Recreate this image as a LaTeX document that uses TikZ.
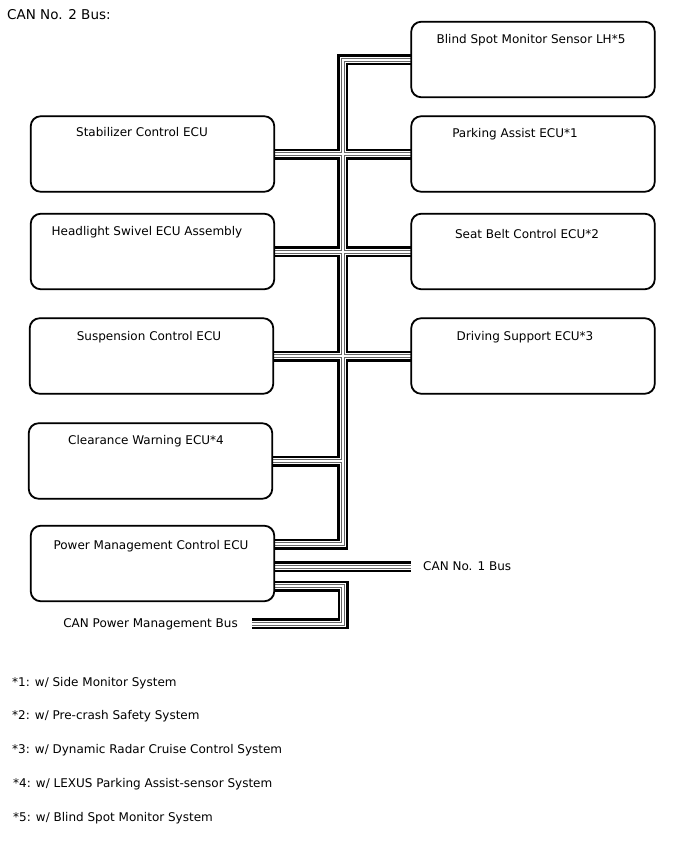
\documentclass[tikz,border=0pt]{standalone}
\usepackage{fontspec}
\setmainfont{DejaVu Sans}

% one CAN cable = black pair with a grey shield line between
\tikzset{
  wireA/.style={line width=11pt, black},
  wireB/.style={line width=6pt, white},
  wireC/.style={line width=4pt, black!60},
  wireD/.style={line width=2pt, white}
}

\newcommand{\cannet}[1]{%
  \draw[#1] (bsm.west) -| (busbot) -- (busbot -| pwr.east);
  \draw[#1] (stab.east) -- (park.west);
  \draw[#1] (head.east) -- (seat.west);
  \draw[#1] (susp.east) -- (drive.west);
  \draw[#1] (clear.east) -- (clear.east -| busbot);
  \draw[#1] ([yshift=-3pt]pwr.east) -- (can1);
  \draw[#1] ([yshift=-22.5pt]pwr.east) -| (pmbend) -- (pmend);
}

\begin{document}
\begin{tikzpicture}[x=1pt, y=-1pt,
  ecu/.style={draw, rounded corners=10pt, line width=1.1pt, fill=white,
    minimum width=243pt, minimum height=75pt, inner sep=0pt},
  txt/.style={font=\fontsize{12}{14}\selectfont, inner sep=0pt}]
  \useasboundingbox (0,0) rectangle (688,852);

  % ECUs
  \node[ecu] (bsm) at (533,59.5) {};
  \node[ecu] (stab) at (152.5,154) {};
  \node[ecu] (park) at (533,154) {};
  \node[ecu] (head) at (152.5,251.5) {};
  \node[ecu] (seat) at (533,251.5) {};
  \node[ecu] (susp) at (151.5,356) {};
  \node[ecu] (drive) at (533,356) {};
  \node[ecu] (clear) at (150.5,461) {};
  \node[ecu] (pwr) at (152.5,563.5) {};

  \coordinate (busbot) at (342.5,544);
  \coordinate (can1) at (411,566.5);
  \coordinate (pmbend) at (343,623.5);
  \coordinate (pmend) at (252,623.5);

  \foreach \s in {wireA,wireB,wireC,wireD} {\cannet{\s}}

  % redraw boxes on top of the cable ends
  \foreach \n in {bsm,stab,park,head,seat,susp,drive,clear,pwr}
    \draw[line width=1.1pt, rounded corners=10pt] (\n.north west) rectangle (\n.south east);

  \node[txt, anchor=west, font=\fontsize{13.5}{15}\selectfont] (title) at (7,15) {CAN No. 2 Bus:};
  \node[txt] (bsm-t) at (531,40) {Blind Spot Monitor Sensor LH*5};
  \node[txt] (stab-t) at (142,132) {Stabilizer Control ECU};
  \node[txt] (park-t) at (515,134) {Parking Assist ECU*1};
  \node[txt] (head-t) at (147,232) {Headlight Swivel ECU Assembly};
  \node[txt] (seat-t) at (527,234) {Seat Belt Control ECU*2};
  \node[txt] (susp-t) at (149,337) {Suspension Control ECU};
  \node[txt] (drive-t) at (525,337) {Driving Support ECU*3};
  \node[txt] (clear-t) at (146,441) {Clearance Warning ECU*4};
  \node[txt] (pwr-t) at (151,546) {Power Management Control ECU};
  \node[txt, anchor=west] (can1-t) at (423,566) {CAN No. 1 Bus};
  \node[txt, anchor=east] (pm-t) at (238,624) {CAN Power Management Bus};

  % notes
  \node[txt, anchor=west] (n1) at (12,683) {*1: w/ Side Monitor System};
  \node[txt, anchor=west] (n2) at (12,716) {*2: w/ Pre-crash Safety System};
  \node[txt, anchor=west] (n3) at (12,750) {*3: w/ Dynamic Radar Cruise Control System};
  \node[txt, anchor=west] (n4) at (13,784) {*4: w/ LEXUS Parking Assist-sensor System};
  \node[txt, anchor=west] (n5) at (13,818) {*5: w/ Blind Spot Monitor System};
\end{tikzpicture}
\end{document}
